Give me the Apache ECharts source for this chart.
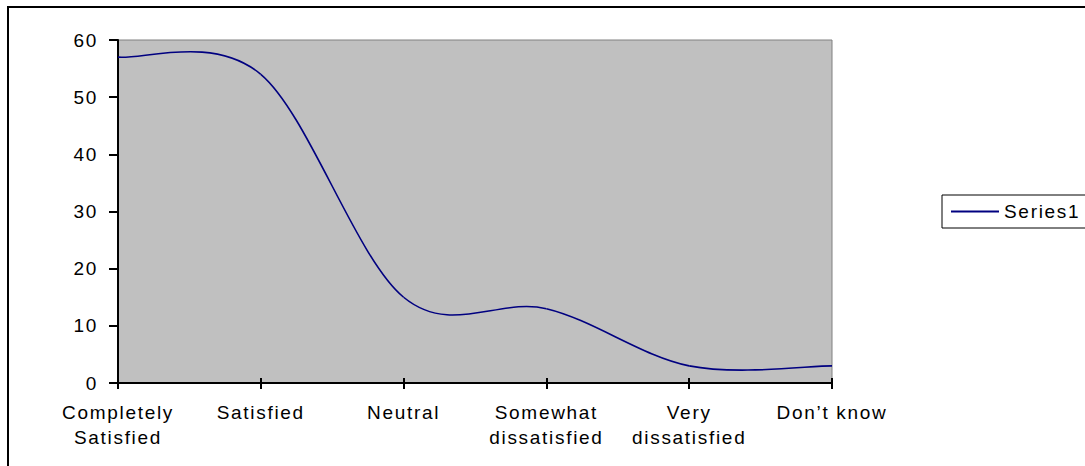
<!DOCTYPE html>
<html>
<head>
<meta charset="utf-8">
<script src="https://cdn.jsdelivr.net/npm/echarts@6/dist/echarts.min.js"></script>
<style>
  html, body { margin: 0; padding: 0; background: #fff; }
  #chart { width: 1085px; height: 466px; letter-spacing: 1.7px; }
</style>
</head>
<body>
<div id="chart"></div>
<script>
const categories = ['Completely\nSatisfied', 'Satisfied', 'Neutral', 'Somewhat\ndissatisfied', 'Very\ndissatisfied', 'Don\u2019t know'];
const series1Values = [57, 54, 15, 13, 3, 3];
const yTicks = { min: 0, max: 60, interval: 10 };
const seriesName = 'Series1';

const FONT = 'Liberation Sans, Arial, sans-serif';
const LINE_COLOR = '#000080';
const chart = echarts.init(document.getElementById('chart'), null, { renderer: 'svg' });

// Excel-style smoothed line (Catmull-Rom through the data points, mapped with the axes' own coord()).
function renderSmoothLine(params, api) {
  if (params.dataIndex !== 0) return null;
  const pts = series1Values.map((v, i) => api.coord([i, v]));
  const children = [];
  for (let i = 0; i < pts.length - 1; i++) {
    const p0 = pts[i - 1] || pts[i];
    const p1 = pts[i];
    const p2 = pts[i + 1];
    const p3 = pts[i + 2] || pts[i + 1];
    children.push({
      type: 'bezierCurve',
      shape: {
        x1: p1[0], y1: p1[1],
        cpx1: p1[0] + (p2[0] - p0[0]) / 6, cpy1: p1[1] + (p2[1] - p0[1]) / 6,
        cpx2: p2[0] - (p3[0] - p1[0]) / 6, cpy2: p2[1] - (p3[1] - p1[1]) / 6,
        x2: p2[0], y2: p2[1]
      },
      style: { stroke: LINE_COLOR, lineWidth: 1.6, fill: null }
    });
  }
  return { type: 'group', children: children };
}

chart.setOption({
  animation: false,
  backgroundColor: '#ffffff',
  graphic: [{
    type: 'rect',
    shape: { x: 8, y: 7, width: 1200, height: 600 },
    style: { fill: 'none', stroke: '#000', lineWidth: 2 },
    z: 100
  }],
  grid: {
    left: 118, top: 40, width: 714, height: 343,
    show: true, backgroundColor: '#C0C0C0', borderColor: '#808080', borderWidth: 1
  },
  legend: {
    show: true,
    left: 942, top: 195,
    orient: 'vertical',
    padding: [7, 40, 7, 9],
    borderColor: '#000', borderWidth: 1,
    itemWidth: 48, itemHeight: 2,
    textStyle: { fontFamily: FONT, fontSize: 19, color: '#000' },
    data: [{ name: seriesName, icon: 'rect', itemStyle: { color: LINE_COLOR } }]
  },
  xAxis: [{
    type: 'category',
    data: categories,
    boundaryGap: false,
    position: 'bottom',
    axisLine: { lineStyle: { color: '#000', width: 2 } },
    axisTick: { show: true, length: 6, lineStyle: { color: '#000', width: 2 } },
    axisLabel: { fontFamily: FONT, fontSize: 19, color: '#000', margin: 17, lineHeight: 25, interval: 0 },
    splitLine: { show: false }
  }, {
    type: 'category',
    data: categories,
    boundaryGap: false,
    position: 'bottom',
    axisLine: { show: false },
    axisTick: { show: true, inside: true, length: 5, lineStyle: { color: '#000', width: 2 } },
    axisLabel: { show: false },
    splitLine: { show: false },
    z: 10
  }],
  yAxis: {
    type: 'value',
    min: yTicks.min, max: yTicks.max, interval: yTicks.interval,
    axisLine: { show: true, lineStyle: { color: '#000', width: 2 } },
    axisTick: { show: true, length: 9, lineStyle: { color: '#000', width: 2 } },
    axisLabel: { fontFamily: FONT, fontSize: 19, color: '#000', margin: 20 },
    splitLine: { show: false }
  },
  series: [{
    name: seriesName,
    type: 'custom',
    coordinateSystem: 'cartesian2d',
    xAxisIndex: 0,
    yAxisIndex: 0,
    data: series1Values.map((v, i) => [i, v]),
    encode: { x: 0, y: 1 },
    renderItem: renderSmoothLine,
    itemStyle: { color: LINE_COLOR },
    clip: true
  }]
});
</script>
</body>
</html>
